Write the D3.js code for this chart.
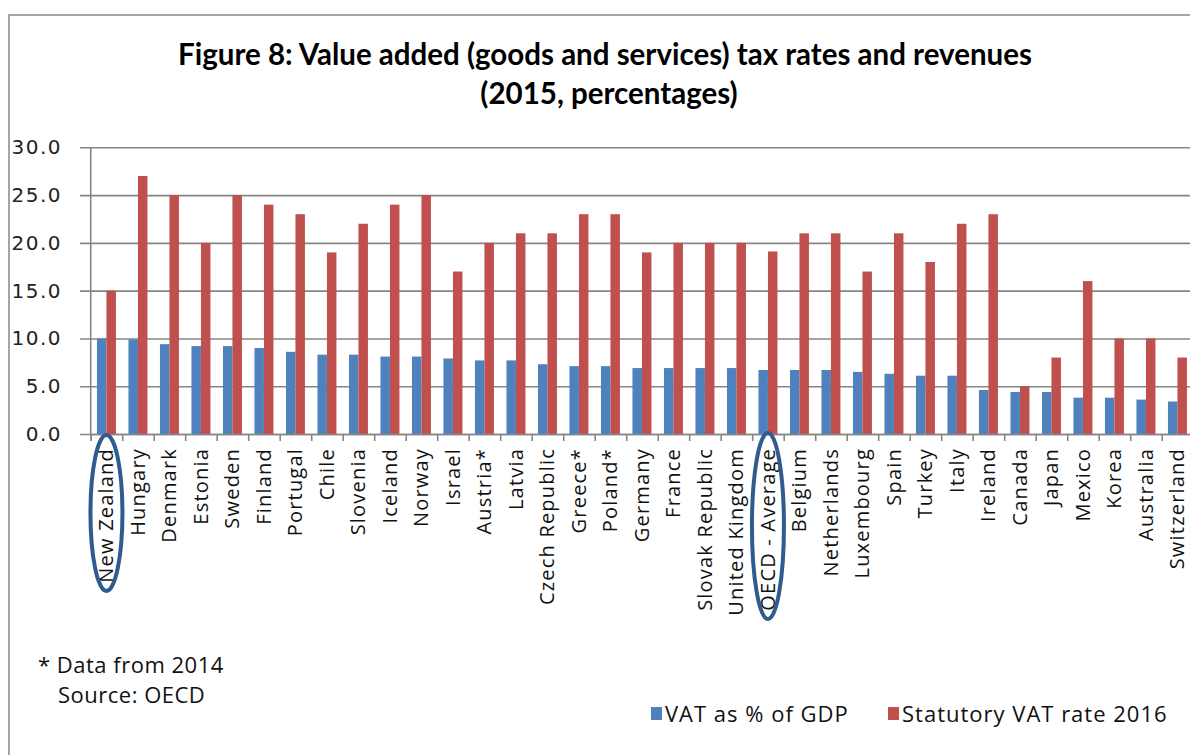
<!DOCTYPE html>
<html>
<head>
<meta charset="utf-8">
<script src="https://cdn.jsdelivr.net/npm/d3@7"></script>
<style>
  body { margin: 0; background: #fff; }
  svg { display: block; }
</style>
</head>
<body>
<div id="chart"></div>
<script>
// chart data
const categories = ["New Zealand", "Hungary", "Denmark", "Estonia", "Sweden", "Finland", "Portugal",
  "Chile", "Slovenia", "Iceland", "Norway", "Israel", "Austria*", "Latvia", "Czech Republic",
  "Greece*", "Poland*", "Germany", "France", "Slovak Republic", "United Kingdom", "OECD - Average",
  "Belgium", "Netherlands", "Luxembourg", "Spain", "Turkey", "Italy", "Ireland", "Canada", "Japan",
  "Mexico", "Korea", "Australia", "Switzerland"];
const vatGdp = [10.0, 9.9, 9.4, 9.2, 9.2, 9.0, 8.6, 8.3, 8.3, 8.1, 8.1, 7.9, 7.7, 7.7, 7.3,
  7.1, 7.1, 6.9, 6.9, 6.9, 6.9, 6.7, 6.7, 6.7, 6.5, 6.3, 6.1, 6.1, 4.6, 4.4, 4.4, 3.8, 3.8, 3.6, 3.4];
const vatRate = [15, 27, 25, 20, 25, 24, 23, 19, 22, 24, 25, 17, 20, 21, 21, 23, 23, 19, 20, 20, 20,
  19.1, 21, 21, 17, 21, 18, 22, 23, 5, 8, 16, 10, 10, 8];
const yTicks = [0, 5, 10, 15, 20, 25, 30];
const seriesNames = ["VAT as % of GDP", "Statutory VAT rate 2016"];
const seriesColors = ["#4f81bd", "#c0504d"];
const circled = ["New Zealand", "OECD - Average"];

//define chart constants
let W = 1190, H = 755;
let svg = d3.select("#chart").append("svg").attr("width", W).attr("height", H);
let plotLeft = 90.7, plotRight = 1193.2, plotTop = 147.3, plotBottom = 434;

//frame
svg.append("path")
  .attr("d", "M9,755 V15 H1190")
  .attr("fill", "none").attr("stroke", "#a5a5a5").attr("stroke-width", 2);

//title
let title = svg.append("g").style("font", "bold 29.5px Lato").attr("fill", "#000").attr("text-anchor", "middle");
title.append("text").attr("x", 605).attr("y", 65).text("Figure 8: Value added (goods and services) tax rates and revenues");
title.append("text").attr("x", 609).attr("y", 104).text("(2015, percentages)");

//scales
let x = d3.scaleBand().domain(categories).range([plotLeft, plotRight]).padding(0);
let xs = d3.scaleBand().domain([0, 1]).range([0, x.bandwidth()]).paddingInner(0).paddingOuter(0.66);
let y = d3.scaleLinear().domain([0, 30]).range([plotBottom, plotTop]);

//y axis + gridlines
let yAxis = svg.append("g")
  .attr("transform", "translate(80,0)")
  .call(d3.axisLeft(y).tickValues(yTicks).tickSize(-(plotRight - 80)).tickPadding(18).tickFormat(d3.format(".1f")));
yAxis.select(".domain").remove();
yAxis.selectAll("line").attr("stroke", "#868686").attr("stroke-width", 1.6);
yAxis.selectAll("text").style("font", "20px 'DejaVu Sans'").style("letter-spacing", "1.5px").attr("fill", "#222");

//vertical axis line
svg.append("line").attr("x1", plotLeft).attr("x2", plotLeft).attr("y1", plotTop).attr("y2", plotBottom)
  .attr("stroke", "#868686").attr("stroke-width", 1.6);

//bars
let groups = svg.append("g").selectAll("g")
  .data(categories)
  .enter().append("g")
  .attr("transform", d => "translate(" + x(d) + ",0)");
groups.selectAll("rect")
  .data((d, i) => [vatGdp[i], vatRate[i]])
  .enter().append("rect")
  .attr("x", (d, j) => xs(j))
  .attr("width", xs.bandwidth())
  .attr("y", d => y(d))
  .attr("height", d => y(0) - y(d))
  .attr("fill", (d, j) => seriesColors[j]);

//x axis baseline + boundary ticks
let xb = d3.scaleLinear().domain([0, categories.length]).range([plotLeft, plotRight]);
let xAxis = svg.append("g")
  .attr("transform", "translate(0," + plotBottom + ")")
  .call(d3.axisBottom(xb).tickValues(d3.range(categories.length + 1)).tickSize(7).tickFormat(""));
xAxis.select(".domain").attr("stroke", "#868686").attr("stroke-width", 1.6);
xAxis.selectAll("line").attr("stroke", "#868686").attr("stroke-width", 1.6);

//category labels
let xLab = svg.append("g")
  .attr("transform", "translate(0," + plotBottom + ")")
  .call(d3.axisBottom(x).tickSize(0));
xLab.select(".domain").remove();
xLab.selectAll("text")
  .attr("transform", "rotate(-90)")
  .attr("x", -14).attr("y", 0).attr("dy", "0.35em")
  .style("text-anchor", "end")
  .style("font", "20px 'Open Sans'")
  .style("letter-spacing", "1.2px")
  .attr("fill", "#111");

//highlight ellipses
svg.append("g").selectAll("ellipse")
  .data(circled)
  .enter().append("ellipse")
  .attr("cx", d => x(d) + x.bandwidth() / 2)
  .attr("cy", (d, i) => i === 0 ? 513 : 526)
  .attr("rx", 16)
  .attr("ry", (d, i) => i === 0 ? 78 : 93)
  .attr("fill", "none").attr("stroke", "#2f5b8e").attr("stroke-width", 4);

//footnote
let note = svg.append("g").style("font", "22px 'Open Sans'").style("letter-spacing", "0.5px").attr("fill", "#111");
note.append("text").attr("x", 38).attr("y", 673).text("* Data from 2014");
note.append("text").attr("x", 58).attr("y", 703).text("Source: OECD");

//legend
let legend = svg.append("g").style("font", "22px 'Open Sans'").style("letter-spacing", "1px").attr("fill", "#111");
let lx = [651, 888];
seriesNames.forEach(function(name, i) {
  legend.append("rect").attr("x", lx[i]).attr("y", 707).attr("width", 11).attr("height", 13).attr("fill", seriesColors[i]);
  legend.append("text").attr("x", lx[i] + 14).attr("y", 722).text(name);
});
</script>
</body>
</html>
